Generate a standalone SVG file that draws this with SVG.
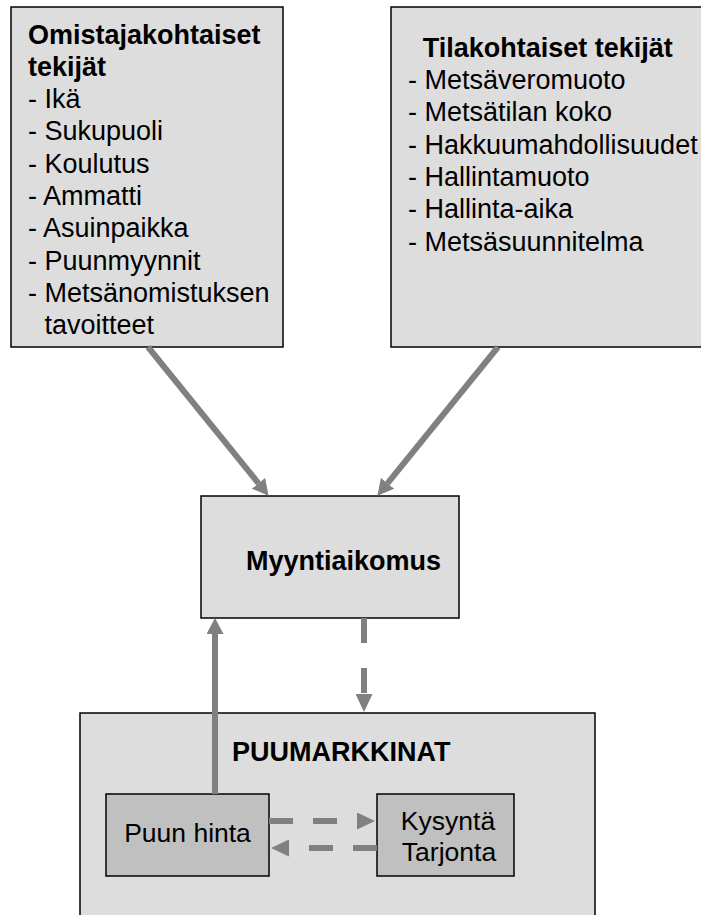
<svg xmlns="http://www.w3.org/2000/svg" width="701" height="915" viewBox="0 0 701 915">
  <style>
    .box { fill: #dddddd; stroke: #000000; stroke-width: 1.5; }
    .inner { fill: #c0c0c0; stroke: #000000; stroke-width: 1.5; }
    .t { font-family: "Liberation Sans", Arial, sans-serif; font-size: 27px; fill: #000000; }
    .b { font-weight: bold; }
    .s { font-size: 26.5px; }
    .conn { stroke: #808080; stroke-width: 6; fill: none; }
    .dh { stroke-dasharray: 24 20; }
    .dv { stroke-dasharray: 25 25; }
  </style>
  <defs>
    <marker id="ah" viewBox="0 0 16 17" refX="0" refY="8.5" markerWidth="16" markerHeight="17" markerUnits="userSpaceOnUse" orient="auto">
      <path d="M0,0 L16,8.5 L0,17 Z" fill="#808080"/>
    </marker>
    <marker id="ahd" viewBox="0 0 18 17" refX="0" refY="8.5" markerWidth="18" markerHeight="17" markerUnits="userSpaceOnUse" orient="auto">
      <path d="M0,0 L18,8.5 L0,17 Z" fill="#808080"/>
    </marker>
  </defs>
  <rect width="701" height="915" fill="#ffffff"/>

  <g id="omistaja">
    <rect class="box" x="11" y="7" width="272" height="340"/>
    <text class="t b" x="28" y="43.5">Omistajakohtaiset</text>
    <text class="t b" x="28" y="75.8">tekijät</text>
    <text class="t" x="28" y="108.1">- Ikä</text>
    <text class="t" x="28" y="140.4">- Sukupuoli</text>
    <text class="t" x="28" y="172.7">- Koulutus</text>
    <text class="t" x="28" y="205">- Ammatti</text>
    <text class="t" x="28" y="237.3">- Asuinpaikka</text>
    <text class="t" x="28" y="269.6">- Puunmyynnit</text>
    <text class="t" x="28" y="301.9">- Metsänomistuksen</text>
    <text class="t" x="44.5" y="334.2">tavoitteet</text>
  </g>

  <g id="tila">
    <rect class="box" x="391" y="7" width="320" height="340"/>
    <text class="t b" x="422.7" y="56.8">Tilakohtaiset tekijät</text>
    <text class="t" x="408" y="89.1">- Metsäveromuoto</text>
    <text class="t" x="408" y="121.4">- Metsätilan koko</text>
    <text class="t" x="408" y="153.7">- Hakkuumahdollisuudet</text>
    <text class="t" x="408" y="186">- Hallintamuoto</text>
    <text class="t" x="408" y="218.3">- Hallinta-aika</text>
    <text class="t" x="408" y="250.6">- Metsäsuunnitelma</text>
  </g>

  <g id="myyntiaikomus">
    <rect class="box" x="201" y="496" width="258" height="122"/>
    <text class="t b" x="246" y="570">Myyntiaikomus</text>
  </g>

  <g id="puumarkkinat">
    <rect class="box" x="80" y="713" width="515" height="220"/>
    <text class="t b" x="232" y="760.7">PUUMARKKINAT</text>
  </g>

  <g id="puunhinta">
    <rect class="inner" x="106" y="794" width="163" height="82"/>
    <text class="t s" x="187.5" y="841.7" text-anchor="middle">Puun hinta</text>
  </g>

  <g id="kysynta">
    <rect class="inner" x="377" y="794" width="137" height="82"/>
    <text class="t s" x="448" y="830" text-anchor="middle">Kysyntä</text>
    <text class="t s" x="449" y="861" text-anchor="middle">Tarjonta</text>
  </g>

  <g id="connectors">
    <line class="conn" x1="148" y1="347" x2="258.5" y2="483.3" marker-end="url(#ah)"/>
    <line class="conn" x1="498" y1="347" x2="387.5" y2="483.3" marker-end="url(#ah)"/>
    <line class="conn" x1="215" y1="794" x2="215" y2="634" marker-end="url(#ah)"/>
    <line class="conn dv" x1="364" y1="618" x2="364" y2="694" marker-end="url(#ahd)"/>
    <line class="conn dh" x1="269" y1="821" x2="357" y2="821" marker-end="url(#ahd)"/>
    <line class="conn dh" x1="377" y1="848" x2="289" y2="848" marker-end="url(#ahd)"/>
  </g>
</svg>
